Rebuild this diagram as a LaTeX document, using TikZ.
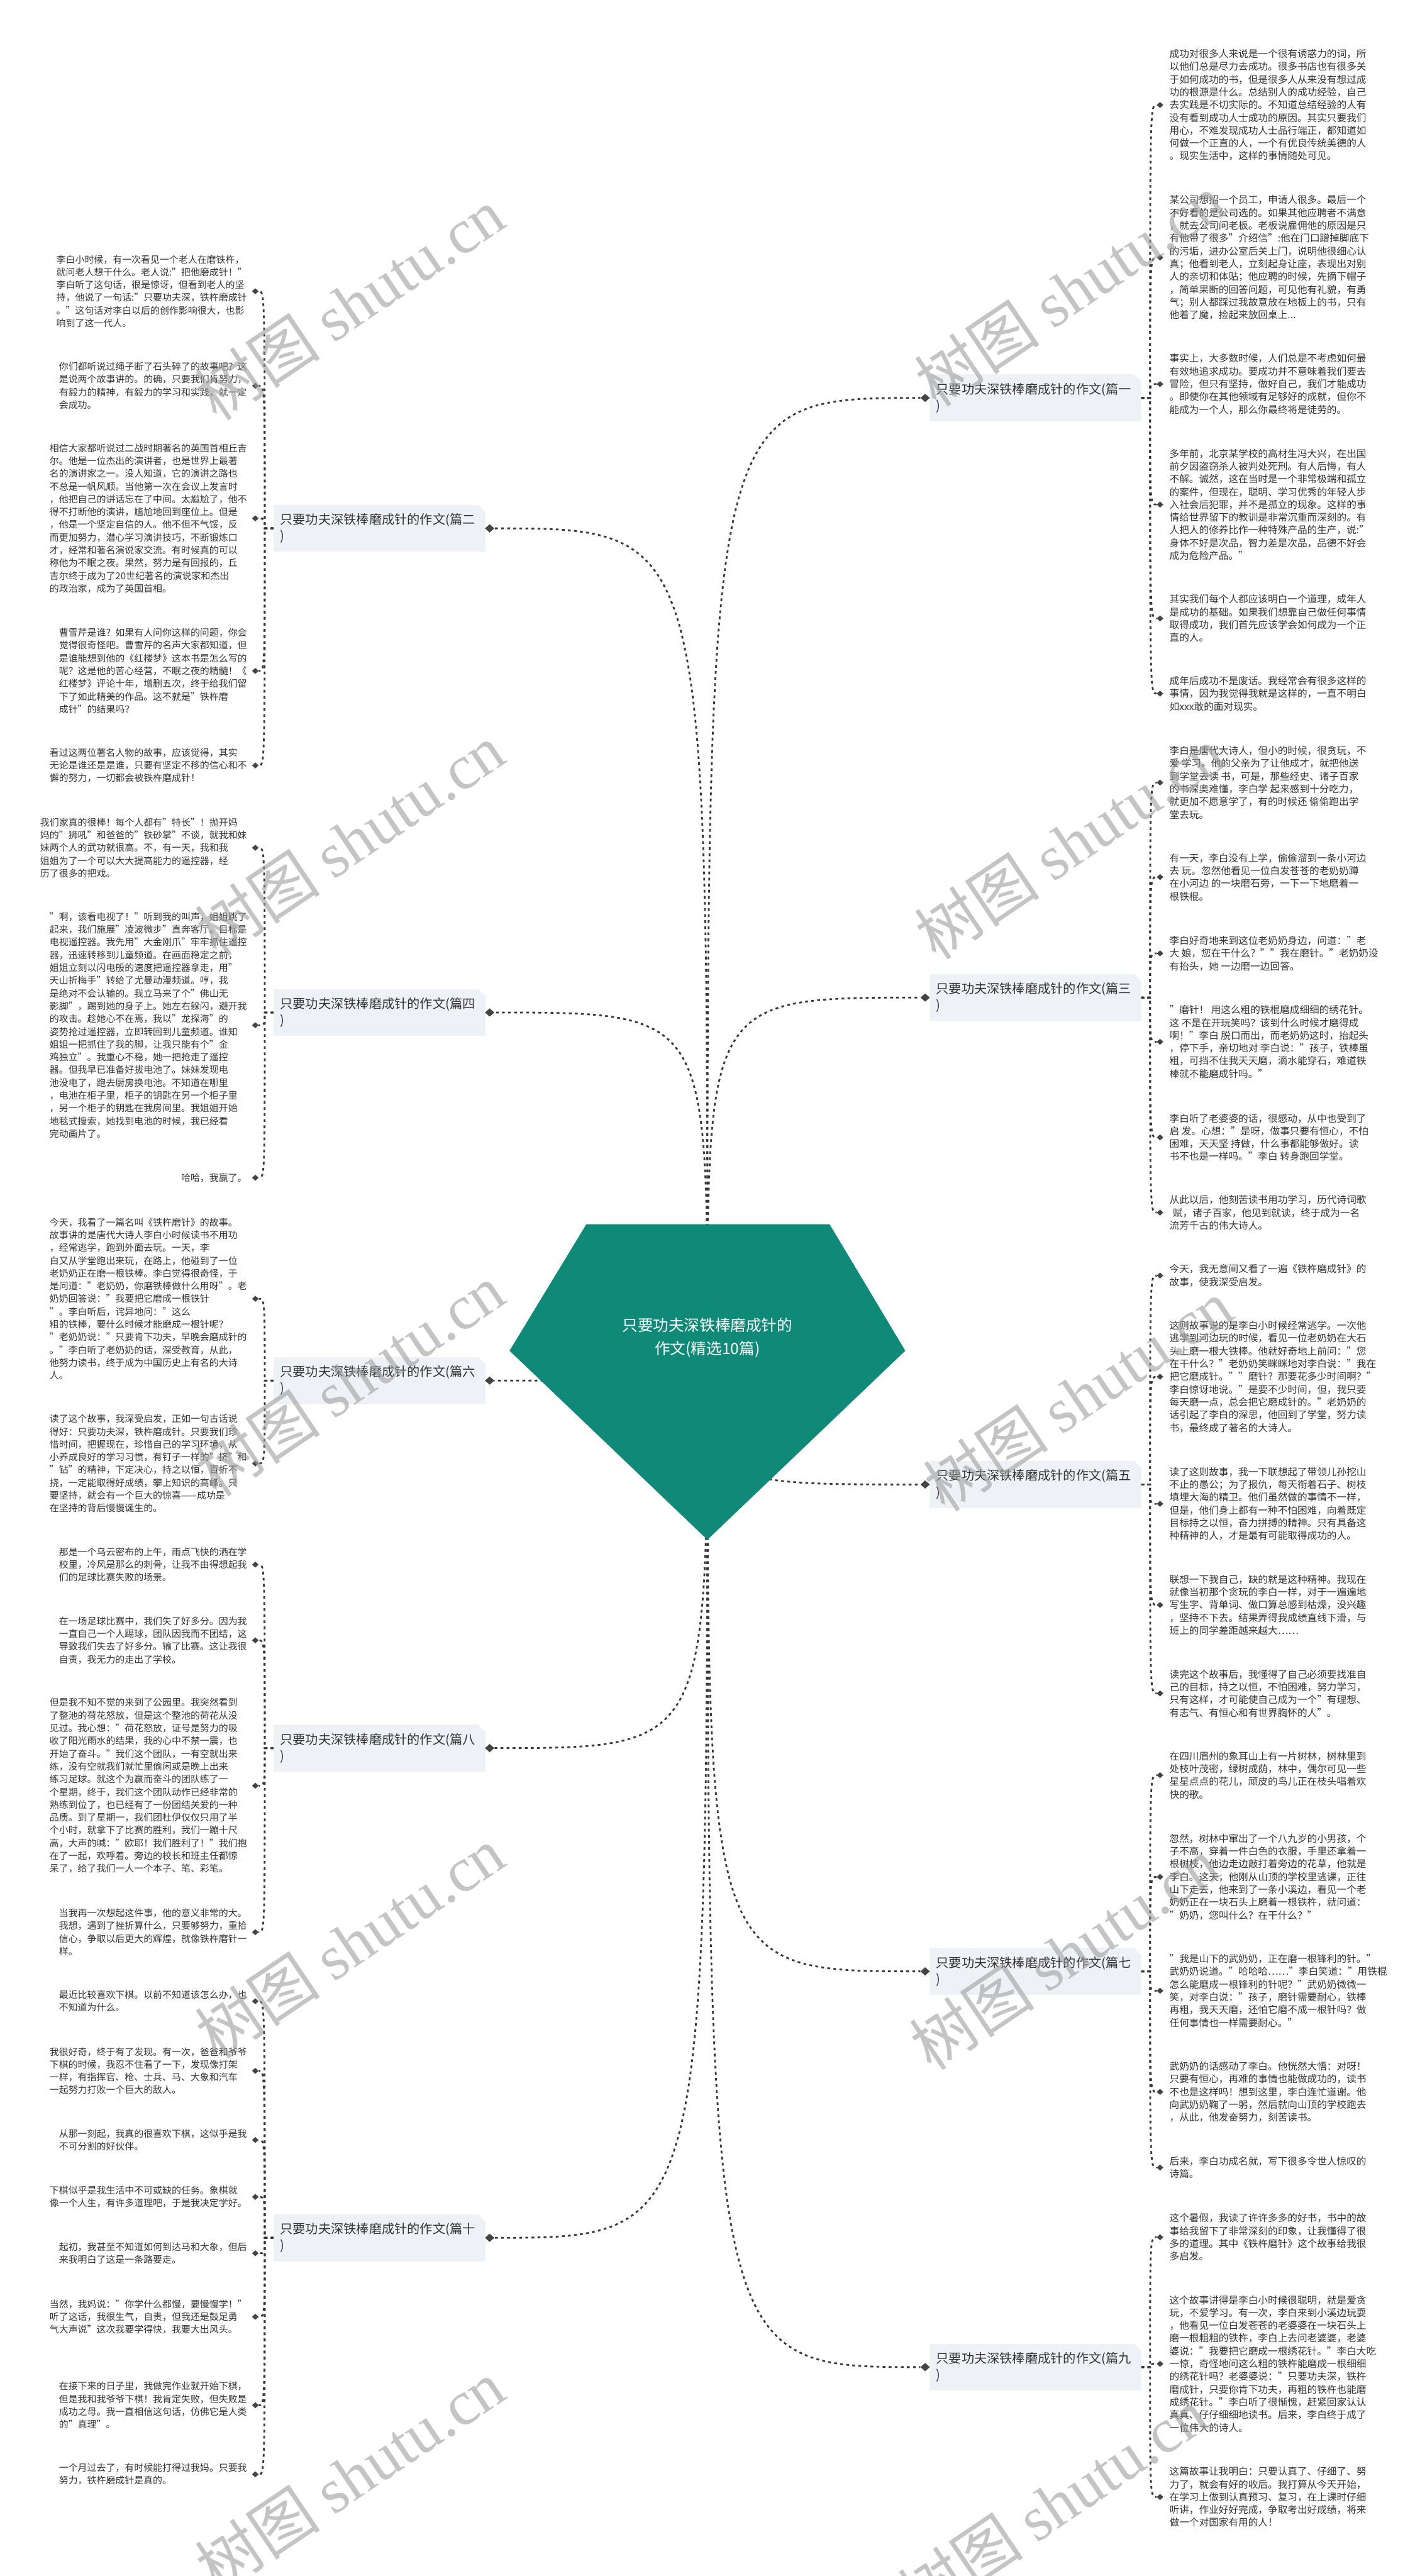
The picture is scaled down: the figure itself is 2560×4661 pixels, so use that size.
\documentclass[tikz,border=0pt]{standalone}
\usepackage{fontspec}
\setmainfont{Noto Sans CJK SC}
\newfontfamily\wmfont{Liberation Serif}
\usetikzlibrary{shapes.geometric}
\definecolor{txtc}{HTML}{333333}
\definecolor{linec}{HTML}{383838}
\definecolor{boxc}{HTML}{EEF1F5}
\definecolor{tealc}{HTML}{108A78}
\definecolor{dmdc}{HTML}{444444}
\tikzset{
  conn/.style={draw=linec, line width=3.2pt, dash pattern=on 5pt off 6pt},
  dmd/.style={diamond, fill=dmdc, inner sep=0pt, minimum width=12pt, minimum height=11pt},
  bdmd/.style={diamond, fill=dmdc, inner sep=0pt, minimum width=17pt, minimum height=15pt},
  ltxt/.style={anchor=east, align=left, inner sep=0pt, text=txtc, font=\fontsize{17}{23.1}\selectfont},
  rtxt/.style={anchor=west, align=left, inner sep=0pt, text=txtc, font=\fontsize{17.8}{23.1}\selectfont},
  bx/.style={rectangle, fill=boxc, minimum width=383pt, minimum height=85pt, text width=359pt, align=left, inner sep=0pt, text=txtc, font=\fontsize{23}{30}\selectfont},
  wm/.style={rotate=34, text=black!38, text opacity=0.6, inner sep=0pt, font=\fontsize{114}{120}\selectfont}
}
\newcommand\cutcorner[1]{\fill[white] (#1.north east) -- ++(-13,0) -- ++(13,13) -- cycle;}
\begin{document}
\begin{tikzpicture}[x=1pt,y=-1pt]
\useasboundingbox (0,0) rectangle (2560,4661);
\fill[white] (0,0) rectangle (2560,4661);
\coordinate (Cc) at (1280,2440);

% ---------- branch boxes ----------
\node[bx] (B2) at (686.5,956) {只要功夫深铁棒磨成针的作文(篇二\\)};
\node[bx] (B4) at (686.5,1832) {只要功夫深铁棒磨成针的作文(篇四\\)};
\node[bx] (B6) at (686.5,2498) {只要功夫深铁棒磨成针的作文(篇六\\)};
\node[bx] (B8) at (686.5,3163) {只要功夫深铁棒磨成针的作文(篇八\\)};
\node[bx] (B10) at (686.5,4049) {只要功夫深铁棒磨成针的作文(篇十\\)};
\node[bx] (B1) at (1873.5,720) {只要功夫深铁棒磨成针的作文(篇一\\)};
\node[bx] (B3) at (1873.5,1805) {只要功夫深铁棒磨成针的作文(篇三\\)};
\node[bx] (B5) at (1873.5,2686) {只要功夫深铁棒磨成针的作文(篇五\\)};
\node[bx] (B7) at (1873.5,3567) {只要功夫深铁棒磨成针的作文(篇七\\)};
\node[bx] (B9) at (1873.5,4283) {只要功夫深铁棒磨成针的作文(篇九\\)};
\cutcorner{B2}\cutcorner{B4}\cutcorner{B6}\cutcorner{B8}\cutcorner{B10}
\cutcorner{B1}\cutcorner{B3}\cutcorner{B5}\cutcorner{B7}\cutcorner{B9}

\node[bdmd] (dB2) at (886,956) {};
\node[bdmd] (dB4) at (886,1832) {};
\node[bdmd] (dB6) at (886,2498) {};
\node[bdmd] (dB8) at (886,3163) {};
\node[bdmd] (dB10) at (886,4049) {};
\node[bdmd] (dB1) at (1674,720) {};
\node[bdmd] (dB3) at (1674,1805) {};
\node[bdmd] (dB5) at (1674,2686) {};
\node[bdmd] (dB7) at (1674,3567) {};
\node[bdmd] (dB9) at (1674,4283) {};

\coordinate (t2) at (479,956);
\coordinate (t4) at (479,1832);
\coordinate (t6) at (479,2498);
\coordinate (t8) at (479,3163);
\coordinate (t10) at (479,4049);
\coordinate (t1) at (2081,720);
\coordinate (t3) at (2081,1805);
\coordinate (t5) at (2081,2686);
\coordinate (t7) at (2081,3567);
\coordinate (t9) at (2081,4283);

% ---------- left texts ----------
\node[dmd] (dL1) at (462,527) {};
\node[ltxt] (L1) at (447,527) {李白小时候，有一次看见一个老人在磨铁杵，\\就问老人想干什么。老人说:"把他磨成针！"\\李白听了这句话，很是惊讶，但看到老人的坚\\持，他说了一句话:"只要功夫深，铁杵磨成针\\。"这句话对李白以后的创作影响很大，也影\\响到了这一代人。};
\node[dmd] (dL2) at (462,698) {};
\node[ltxt] (L2) at (447,698) {你们都听说过绳子断了石头碎了的故事吧？这\\是说两个故事讲的。的确，只要我们肯努力，\\有毅力的精神，有毅力的学习和实践，就一定\\会成功。};
\node[dmd] (dL3) at (462,938) {};
\node[ltxt] (L3) at (447,938) {相信大家都听说过二战时期著名的英国首相丘吉\\尔。他是一位杰出的演讲者，也是世界上最著\\名的演讲家之一。没人知道，它的演讲之路也\\不总是一帆风顺。当他第一次在会议上发言时\\，他把自己的讲话忘在了中间。太尴尬了，他不\\得不打断他的演讲，尴尬地回到座位上。但是\\，他是一个坚定自信的人。他不但不气馁，反\\而更加努力，潜心学习演讲技巧，不断锻炼口\\才，经常和著名演说家交流。有时候真的可以\\称他为不眠之夜。果然，努力是有回报的，丘\\吉尔终于成为了20世纪著名的演说家和杰出\\的政治家，成为了英国首相。};
\node[dmd] (dL4) at (462,1214) {};
\node[ltxt] (L4) at (447,1214) {曹雪芹是谁？如果有人问你这样的问题，你会\\觉得很奇怪吧。曹雪芹的名声大家都知道，但\\是谁能想到他的《红楼梦》这本书是怎么写的\\呢？这是他的苦心经营，不眠之夜的精髓！《\\红楼梦》评论十年，增删五次，终于给我们留\\下了如此精美的作品。这不就是"铁杵磨\\成针"的结果吗？};
\node[dmd] (dL5) at (462,1385) {};
\node[ltxt] (L5) at (447,1385) {看过这两位著名人物的故事，应该觉得，其实\\无论是谁还是是谁，只要有坚定不移的信心和不\\懈的努力，一切都会被铁杵磨成针！};
\node[dmd] (dL6) at (462,1534) {};
\node[ltxt] (L6) at (447,1534) {我们家真的很棒！每个人都有"特长"！抛开妈\\妈的"狮吼"和爸爸的"铁砂掌"不谈，就我和妹\\妹两个人的武功就很高。不，有一天，我和我\\姐姐为了一个可以大大提高能力的遥控器，经\\历了很多的把戏。};
\node[dmd] (dL7) at (462,1855) {};
\node[ltxt] (L7) at (447,1855) {"啊，该看电视了！"听到我的叫声，姐姐跳了\\起来，我们施展"凌波微步"直奔客厅。目标是\\电视遥控器。我先用"大金刚爪"牢牢抓住遥控\\器，迅速转移到儿童频道。在画面稳定之前，\\姐姐立刻以闪电般的速度把遥控器拿走，用"\\天山折梅手"转给了尤曼动漫频道。哼，我\\是绝对不会认输的。我立马来了个"佛山无\\影脚"，踢到她的身子上。她左右躲闪，避开我\\的攻击。趁她心不在焉，我以"龙探海"的\\姿势抢过遥控器，立即转回到儿童频道。谁知\\姐姐一把抓住了我的脚，让我只能有个"金\\鸡独立"。我重心不稳，她一把抢走了遥控\\器。但我早已准备好拔电池了。妹妹发现电\\池没电了，跑去厨房换电池。不知道在哪里\\，电池在柜子里，柜子的钥匙在另一个柜子里\\，另一个柜子的钥匙在我房间里。我姐姐开始\\地毯式搜索，她找到电池的时候，我已经看\\完动画片了。};
\node[dmd] (dL8) at (462,2131) {};
\node[ltxt] (L8) at (447,2131) {哈哈，我赢了。};
\node[dmd] (dL9) at (462,2350) {};
\node[ltxt] (L9) at (447,2350) {今天，我看了一篇名叫《铁杵磨针》的故事。\\故事讲的是唐代大诗人李白小时候读书不用功\\，经常逃学，跑到外面去玩。一天，李\\白又从学堂跑出来玩，在路上，他碰到了一位\\老奶奶正在磨一根铁棒。李白觉得很奇怪，于\\是问道："老奶奶，你磨铁棒做什么用呀"。老\\奶奶回答说："我要把它磨成一根铁针\\"。李白听后，诧异地问："这么\\粗的铁棒，要什么时候才能磨成一根针呢？\\"老奶奶说："只要肯下功夫，早晚会磨成针的\\。"李白听了老奶奶的话，深受教育，从此，\\他努力读书，终于成为中国历史上有名的大诗\\人。};
\node[dmd] (dL10) at (462,2648) {};
\node[ltxt] (L10) at (447,2648) {读了这个故事，我深受启发，正如一句古话说\\得好：只要功夫深，铁杵磨成针。只要我们珍\\惜时间，把握现在，珍惜自己的学习环境，从\\小养成良好的学习习惯，有钉子一样的"挤"和\\"钻"的精神，下定决心，持之以恒，百折不\\挠，一定能取得好成绩，攀上知识的高峰。只\\要坚持，就会有一个巨大的惊喜——成功是\\在坚持的背后慢慢诞生的。};
\node[dmd] (dL11) at (462,2831) {};
\node[ltxt] (L11) at (447,2831) {那是一个乌云密布的上午，雨点飞快的洒在学\\校里，冷风是那么的刺骨，让我不由得想起我\\们的足球比赛失败的场景。};
\node[dmd] (dL12) at (462,2968) {};
\node[ltxt] (L12) at (447,2968) {在一场足球比赛中，我们失了好多分。因为我\\一直自己一个人踢球，团队因我而不团结，这\\导致我们失去了好多分。输了比赛。这让我很\\自责，我无力的走出了学校。};
\node[dmd] (dL13) at (462,3231) {};
\node[ltxt] (L13) at (447,3231) {但是我不知不觉的来到了公园里。我突然看到\\了整池的荷花怒放，但是这个整池的荷花从没\\见过。我心想："荷花怒放，证号是努力的吸\\收了阳光雨水的结果，我的心中不禁一震，也\\开始了奋斗。"我们这个团队，一有空就出来\\练，没有空就我们就忙里偷闲或是晚上出来\\练习足球。就这个为赢而奋斗的团队练了一\\个星期，终于，我们这个团队动作已经非常的\\熟练到位了，也已经有了一份团结关爱的一种\\品质。到了星期一，我们团杜伊仅仅只用了半\\个小时，就拿下了比赛的胜利，我们一蹦十尺\\高，大声的喊："欧耶！我们胜利了！"我们抱\\在了一起，欢呼着。旁边的校长和班主任都惊\\呆了，给了我们一人一个本子、笔、彩笔。};
\node[dmd] (dL14) at (462,3496) {};
\node[ltxt] (L14) at (447,3496) {当我再一次想起这件事，他的意义非常的大。\\我想，遇到了挫折算什么，只要够努力，重拾\\信心，争取以后更大的辉煌，就像铁杵磨针一\\样。};
\node[dmd] (dL15) at (462,3621) {};
\node[ltxt] (L15) at (447,3621) {最近比较喜欢下棋。以前不知道该怎么办，也\\不知道为什么。};
\node[dmd] (dL16) at (462,3747) {};
\node[ltxt] (L16) at (447,3747) {我很好奇，终于有了发现。有一次，爸爸和爷爷\\下棋的时候，我忍不住看了一下，发现像打架\\一样，有指挥官、枪、士兵、马、大象和汽车\\一起努力打败一个巨大的敌人。};
\node[dmd] (dL17) at (462,3872) {};
\node[ltxt] (L17) at (447,3872) {从那一刻起，我真的很喜欢下棋，这似乎是我\\不可分割的好伙伴。};
\node[dmd] (dL18) at (462,3975) {};
\node[ltxt] (L18) at (447,3975) {下棋似乎是我生活中不可或缺的任务。象棋就\\像一个人生，有许多道理吧，于是我决定学好。};
\node[dmd] (dL19) at (462,4077) {};
\node[ltxt] (L19) at (447,4077) {起初，我甚至不知道如何到达马和大象，但后\\来我明白了这是一条路要走。};
\node[dmd] (dL20) at (462,4192) {};
\node[ltxt] (L20) at (447,4192) {当然，我妈说："你学什么都慢，要慢慢学！"\\听了这话，我很生气，自责，但我还是鼓足勇\\气大声说"这次我要学得快，我要大出风头。};
\node[dmd] (dL21) at (462,4352) {};
\node[ltxt] (L21) at (447,4352) {在接下来的日子里，我做完作业就开始下棋，\\但是我和我爷爷下棋！我肯定失败，但失败是\\成功之母。我一直相信这句话，仿佛它是人类\\的"真理"。};
\node[dmd] (dL22) at (462,4477) {};
\node[ltxt] (L22) at (447,4477) {一个月过去了，有时候能打得过我妈。只要我\\努力，铁杵磨成针是真的。};

% ---------- right texts ----------
\node[dmd] (dR1) at (2099,190) {};
\node[rtxt] (R1) at (2116,190) {成功对很多人来说是一个很有诱惑力的词，所\\以他们总是尽力去成功。很多书店也有很多关\\于如何成功的书，但是很多人从来没有想过成\\功的根源是什么。总结别人的成功经验，自己\\去实践是不切实际的。不知道总结经验的人有\\没有看到成功人士成功的原因。其实只要我们\\用心，不难发现成功人士品行端正，都知道如\\何做一个正直的人，一个有优良传统美德的人\\。现实生活中，这样的事情随处可见。};
\node[dmd] (dR2) at (2099,466) {};
\node[rtxt] (R2) at (2116,466) {某公司想招一个员工，申请人很多。最后一个\\不好看的是公司选的。如果其他应聘者不满意\\，就去公司问老板。老板说雇佣他的原因是只\\有他带了很多"介绍信":他在门口蹭掉脚底下\\的污垢，进办公室后关上门，说明他很细心认\\真；他看到老人，立刻起身让座，表现出对别\\人的亲切和体贴；他应聘的时候，先摘下帽子\\，简单果断的回答问题，可见他有礼貌，有勇\\气；别人都踩过我故意放在地板上的书，只有\\他着了魔，捡起来放回桌上...};
\node[dmd] (dR3) at (2099,695) {};
\node[rtxt] (R3) at (2116,695) {事实上，大多数时候，人们总是不考虑如何最\\有效地追求成功。要成功并不意味着我们要去\\冒险，但只有坚持，做好自己，我们才能成功\\。即使你在其他领域有足够好的成就，但你不\\能成为一个人，那么你最终将是徒劳的。};
\node[dmd] (dR4) at (2099,913) {};
\node[rtxt] (R4) at (2116,913) {多年前，北京某学校的高材生冯大兴，在出国\\前夕因盗窃杀人被判处死刑。有人后悔，有人\\不解。诚然，这在当时是一个非常极端和孤立\\的案件，但现在，聪明、学习优秀的年轻人步\\入社会后犯罪，并不是孤立的现象。这样的事\\情给世界留下的教训是非常沉重而深刻的。有\\人把人的修养比作一种特殊产品的生产，说:"\\身体不好是次品，智力差是次品，品德不好会\\成为危险产品。"};
\node[dmd] (dR5) at (2099,1119) {};
\node[rtxt] (R5) at (2116,1119) {其实我们每个人都应该明白一个道理，成年人\\是成功的基础。如果我们想靠自己做任何事情\\取得成功，我们首先应该学会如何成为一个正\\直的人。};
\node[dmd] (dR6) at (2099,1255) {};
\node[rtxt] (R6) at (2116,1255) {成年后成功不是废话。我经常会有很多这样的\\事情，因为我觉得我就是这样的，一直不明白\\如xxx敢的面对现实。};
\node[dmd] (dR7) at (2099,1416) {};
\node[rtxt] (R7) at (2116,1416) {李白是唐代大诗人，但小的时候，很贪玩，不\\爱 学习。他的父亲为了让他成才，就把他送\\到学堂去读 书，可是，那些经史、诸子百家\\的书深奥难懂，李白学 起来感到十分吃力，\\就更加不愿意学了，有的时候还 偷偷跑出学\\堂去玩。};
\node[dmd] (dR8) at (2099,1587) {};
\node[rtxt] (R8) at (2116,1587) {有一天，李白没有上学，偷偷溜到一条小河边\\去 玩。忽然他看见一位白发苍苍的老奶奶蹲\\在小河边 的一块磨石旁，一下一下地磨着一\\根铁棍。};
\node[dmd] (dR9) at (2099,1725) {};
\node[rtxt] (R9) at (2116,1725) {李白好奇地来到这位老奶奶身边，问道："老\\大 娘，您在干什么？""我在磨针。"老奶奶没\\有抬头，她 一边磨一边回答。};
\node[dmd] (dR10) at (2099,1885) {};
\node[rtxt] (R10) at (2116,1885) {"磨针！ 用这么粗的铁棍磨成细细的绣花针。\\这 不是在开玩笑吗？该到什么时候才磨得成\\啊！"李白 脱口而出，而老奶奶这时，抬起头\\，停下手，亲切地对 李白说："孩子，铁棒虽\\粗，可挡不住我天天磨，滴水能穿石，难道铁\\棒就不能磨成针吗。"};
\node[dmd] (dR11) at (2099,2058) {};
\node[rtxt] (R11) at (2116,2058) {李白听了老婆婆的话，很感动，从中也受到了\\启 发。心想："是呀，做事只要有恒心，不怕\\困难，天天坚 持做，什么事都能够做好。读\\书不也是一样吗。"李白 转身跑回学堂。};
\node[dmd] (dR12) at (2099,2194) {};
\node[rtxt] (R12) at (2116,2194) {从此以后，他刻苦读书用功学习，历代诗词歌\\\hspace*{6pt}赋，诸子百家，他见到就读，终于成为一名\\流芳千古的伟大诗人。};
\node[dmd] (dR13) at (2099,2308) {};
\node[rtxt] (R13) at (2116,2308) {今天，我无意间又看了一遍《铁杵磨成针》的\\故事，使我深受启发。};
\node[dmd] (dR14) at (2099,2491) {};
\node[rtxt] (R14) at (2116,2491) {这则故事说的是李白小时候经常逃学。一次他\\逃学到河边玩的时候，看见一位老奶奶在大石\\头上磨一根大铁棒。他就好奇地上前问："您\\在干什么？"老奶奶笑眯眯地对李白说："我在\\把它磨成针。""磨针？那要花多少时间啊？"\\李白惊讶地说。"是要不少时间，但，我只要\\每天磨一点，总会把它磨成针的。"老奶奶的\\话引起了李白的深思，他回到了学堂，努力读\\书，最终成了著名的大诗人。};
\node[dmd] (dR15) at (2099,2721) {};
\node[rtxt] (R15) at (2116,2721) {读了这则故事，我一下联想起了带领儿孙挖山\\不止的愚公；为了报仇，每天衔着石子、树枝\\填埋大海的精卫。他们虽然做的事情不一样，\\但是，他们身上都有一种不怕困难，向着既定\\目标持之以恒，奋力拼搏的精神。只有具备这\\种精神的人，才是最有可能取得成功的人。};
\node[dmd] (dR16) at (2099,2904) {};
\node[rtxt] (R16) at (2116,2904) {联想一下我自己，缺的就是这种精神。我现在\\就像当初那个贪玩的李白一样，对于一遍遍地\\写生字、背单词、做口算总感到枯燥，没兴趣\\，坚持不下去。结果弄得我成绩直线下滑，与\\班上的同学差距越来越大……};
\node[dmd] (dR17) at (2099,3064) {};
\node[rtxt] (R17) at (2116,3064) {读完这个故事后，我懂得了自己必须要找准自\\己的目标，持之以恒，不怕困难，努力学习，\\只有这样，才可能使自己成为一个"有理想、\\有志气、有恒心和有世界胸怀的人"。};
\node[dmd] (dR18) at (2099,3212) {};
\node[rtxt] (R18) at (2116,3212) {在四川眉州的象耳山上有一片树林，树林里到\\处枝叶茂密，绿树成荫，林中，偶尔可见一些\\星星点点的花儿，顽皮的鸟儿正在枝头唱着欢\\快的歌。};
\node[dmd] (dR19) at (2099,3396) {};
\node[rtxt] (R19) at (2116,3396) {忽然，树林中窜出了一个八九岁的小男孩，个\\子不高，穿着一件白色的衣服，手里还拿着一\\根树枝，他边走边敲打着旁边的花草，他就是\\李白。这天，他刚从山顶的学校里逃课，正往\\山下走去，他来到了一条小溪边，看见一个老\\奶奶正在一块石头上磨着一根铁杵，就问道：\\"奶奶，您叫什么？在干什么？"};
\node[dmd] (dR20) at (2099,3602) {};
\node[rtxt] (R20) at (2116,3602) {"我是山下的武奶奶，正在磨一根锋利的针。"\\武奶奶说道。"哈哈哈……"李白笑道："用铁棍\\怎么能磨成一根锋利的针呢？"武奶奶微微一\\笑，对李白说："孩子，磨针需要耐心，铁棒\\再粗，我天天磨，还怕它磨不成一根针吗？做\\任何事情也一样需要耐心。"};
\node[dmd] (dR21) at (2099,3785) {};
\node[rtxt] (R21) at (2116,3785) {武奶奶的话感动了李白。他恍然大悟：对呀！\\只要有恒心，再难的事情也能做成功的，读书\\不也是这样吗！想到这里，李白连忙道谢。他\\向武奶奶鞠了一躬，然后就向山顶的学校跑去\\，从此，他发奋努力，刻苦读书。};
\node[dmd] (dR22) at (2099,3922) {};
\node[rtxt] (R22) at (2116,3922) {后来，李白功成名就，写下很多令世人惊叹的\\诗篇。};
\node[dmd] (dR23) at (2099,4048) {};
\node[rtxt] (R23) at (2116,4048) {这个暑假，我读了许许多多的好书，书中的故\\事给我留下了非常深刻的印象，让我懂得了很\\多的道理。其中《铁杵磨针》这个故事给我很\\多启发。};
\node[dmd] (dR24) at (2099,4277) {};
\node[rtxt] (R24) at (2116,4277) {这个故事讲得是李白小时候很聪明，就是爱贪\\玩，不爱学习。有一次，李白来到小溪边玩耍\\，他看见一位白发苍苍的老婆婆在一块石头上\\磨一根粗粗的铁杵，李白上去问老婆婆，老婆\\婆说："我要把它磨成一根绣花针。"李白大吃\\一惊，奇怪地问这么粗的铁杵能磨成一根细细\\的绣花针吗？老婆婆说："只要功夫深，铁杵\\磨成针，只要你肯下功夫，再粗的铁杵也能磨\\成绣花针。"李白听了很惭愧，赶紧回家认认\\真真、仔仔细细地读书。后来，李白终于成了\\一位伟大的诗人。};
\node[dmd] (dR25) at (2099,4518) {};
\node[rtxt] (R25) at (2116,4518) {这篇故事让我明白：只要认真了、仔细了、努\\力了，就会有好的收后。我打算从今天开始，\\在学习上做到认真预习、复习，在上课时仔细\\听讲，作业好好完成，争取考出好成绩，将来\\做一个对国家有用的人！};

% ---------- connectors: boxes to children ----------
\foreach \b/\c in {2/1,2/2,2/3,2/4,2/5,4/6,4/7,4/8,6/9,6/10,8/11,8/12,8/13,8/14,10/15,10/16,10/17,10/18,10/19,10/20,10/21,10/22}
  \draw[conn] (B\b.west) -- (t\b) .. controls (t\b |- dL\c) .. (dL\c);
\foreach \b/\c in {1/1,1/2,1/3,1/4,1/5,1/6,3/7,3/8,3/9,3/10,3/11,3/12,5/13,5/14,5/15,5/16,5/17,7/18,7/19,7/20,7/21,7/22,9/23,9/24,9/25}
  \draw[conn] (B\b.east) -- (t\b) .. controls (t\b |- dR\c) .. (dR\c);

% ---------- connectors: centre to boxes ----------
\foreach \b in {2,4,6,8,10,1,3,5,7,9}
  \draw[conn] (Cc) .. controls (Cc |- dB\b) .. (dB\b);

% ---------- centre ----------
\fill[tealc] (1061,2215) -- (1501,2215) -- (1638,2444) -- (1280,2786) -- (922,2444) -- cycle;
\node[text=white, align=center, inner sep=0pt, font=\fontsize{28}{42}\selectfont] (C) at (1280,2420) {只要功夫深铁棒磨成针的\\作文(精选10篇)};

% ---------- watermarks ----------
\foreach \x/\y in {633/550,633/1520,633/2497,633/3515,633/4480,1935/525,1935/1525,1950/2525,1925/3535,1905/4530}
  \node[wm] at (\x,\y) {树图 {\wmfont shutu.cn}};
\end{tikzpicture}
\end{document}
